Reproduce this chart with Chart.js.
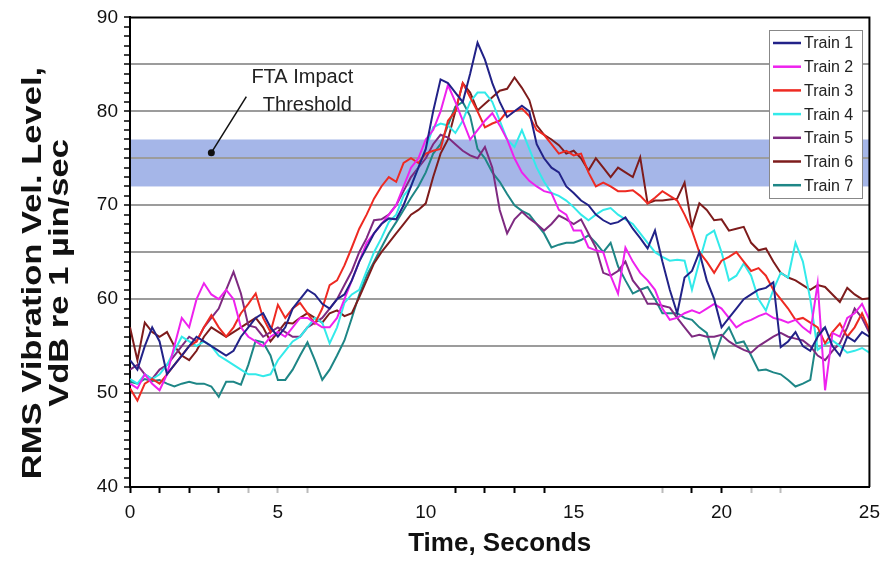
<!DOCTYPE html>
<html>
<head>
<meta charset="utf-8">
<script src="https://cdn.jsdelivr.net/npm/chart.js@4.4.1/dist/chart.umd.min.js"></script>
<style>
  body { margin: 0; background: #fff; }
  #wrap { width: 888px; height: 563px; }
</style>
</head>
<body>
<div id="wrap"><canvas id="myChart" width="888" height="563"></canvas></div>
<script>
// samples every 0.25 s, 0..25 s
step = 0.25;

train1 = [53.5, 52.5, 55, 57, 55.5, 52, 53, 54, 55, 56, 55.5, 55, 54.5, 54, 54.5, 56, 57, 58, 58.5, 57,
  56, 57, 59, 60, 61, 60.5, 59.5, 59, 60, 60.5, 62, 64, 65.5, 67, 68, 68.6, 68.5, 70, 72, 74,
  76, 80, 83.4, 83, 82, 81, 84, 87.3, 85.5, 83, 81, 79.4, 80, 80.6, 80, 76.5, 75, 74, 73.5, 72,
  71.3, 70.5, 70, 69, 68.4, 68, 68.2, 68.7, 67.5, 66.5, 65.4, 67.3, 64, 61, 58.5, 62.3, 63, 65, 62, 60,
  57, 58, 59, 60, 60.5, 61, 61.2, 61.8, 54.9, 55.5, 56.5, 55, 54.5, 56, 57, 55, 54, 56, 55.5, 56.5, 56];
train2 = [51, 50.5, 52, 51, 50.3, 52, 55, 58, 57, 60, 61.7, 60.5, 60, 61, 60, 57, 56, 55.5, 55, 56,
  56.5, 56, 57, 58, 58, 57.5, 57, 57, 58, 60, 62, 64, 66, 67, 68, 69, 70, 72, 74, 75,
  77, 78, 80, 82.8, 81, 79, 77, 78, 79, 79.8, 78.5, 77, 75, 73.5, 72.6, 72, 71.5, 71.3, 69.5, 69,
  67.3, 67.3, 65.5, 65.2, 65, 62.5, 60.6, 65.5, 64, 62.8, 62, 61, 59, 57.8, 58, 58.5, 58.8, 58.5, 59, 59.5,
  59, 58, 57, 57.5, 57.8, 58.2, 58.5, 58, 57.8, 57.5, 57.8, 57, 56.4, 61.7, 50.3, 56.4, 56, 58, 58.5, 59.5, 57.8];
train3 = [50.5, 49.2, 51, 51.5, 51, 52, 53, 54, 55, 55.5, 57, 58.3, 57, 56, 57, 58.5, 59.5, 60.6, 58, 56.5,
  59.4, 58, 59, 59.6, 58.5, 57.4, 59, 61.5, 62, 63.6, 65.5, 67.5, 69, 70.7, 72, 73, 72.5, 74.5, 75, 74.5,
  75.5, 75.8, 76, 79, 80, 83, 81.5, 80, 78.3, 78.7, 79, 80, 80, 80.3, 79.5, 78, 77.5, 76.5, 75.5, 75.8,
  75.3, 75.5, 73.5, 72, 72.4, 72, 71.5, 71.5, 71.6, 71, 70.2, 70.8, 71.5, 71, 70.5, 69, 67.3, 65, 64, 62.8,
  64.1, 64.5, 65, 64, 63, 63.3, 62.5, 61, 60, 59, 57.8, 58, 57.5, 57, 55.3, 56.5, 57.4, 56, 57, 58.5, 56.7];
train4 = [51.5, 51, 52, 51.5, 52, 53, 54.5, 56, 55.5, 55, 55.5, 55, 54, 53.5, 53, 52.5, 52, 52, 51.8, 52,
  53.5, 54.5, 55.5, 56, 57, 58, 57.5, 55.3, 57, 59.6, 60.5, 61, 63, 65, 66.5, 68.2, 69, 71, 72, 74,
  76, 78.3, 78.7, 78.5, 77.7, 79, 81, 82, 82, 81, 79, 77, 76.2, 78, 76, 74, 72.5, 71.3, 71, 70.5,
  69.8, 69, 68.4, 69, 69.5, 69.7, 69, 68.5, 68, 67, 66, 65, 64.5, 64.1, 64.2, 64.1, 61, 64, 66.8, 67.3,
  65, 62, 62.5, 63.8, 62.5, 60, 58.8, 61, 62.8, 62.3, 66, 64, 60, 54.6, 55.2, 55.6, 55, 54.3, 54.5, 54.8, 54.3];
train5 = [52.5, 53, 52, 51.5, 52.5, 53, 54, 55, 56, 55.5, 57, 58, 59, 61, 62.9, 60.6, 57.2, 57, 56, 56.5,
  57, 56.5, 56, 56, 57, 57.5, 58, 59, 60, 61.5, 63, 65, 66.5, 68.4, 68.5, 69, 70, 71.5, 73, 74,
  75, 76.5, 77.5, 77.2, 76.5, 75.8, 75.3, 75, 76.2, 74, 69.5, 67, 68.5, 69.3, 68.6, 68, 67.3, 68, 68.9, 68.5,
  68, 68.5, 67, 65.5, 62.8, 62.5, 63, 64, 62, 61, 59.5, 59.5, 59.3, 59.1, 58, 57, 56, 56.2, 56, 56,
  56.2, 55.5, 55, 54.6, 54.3, 55, 55.5, 56, 56.4, 56, 55.8, 55.6, 55, 54, 53.5, 54.5, 55.3, 57, 59, 58, 56.4];
train6 = [57, 53.5, 57.5, 56.5, 56, 56.5, 55, 54, 53.5, 54.5, 56, 57, 56.5, 56, 56.5, 57, 57.5, 58, 57, 55.5,
  56.5, 57.5, 57.4, 58, 58.5, 58, 57.5, 58.5, 58.8, 58.2, 58.5, 60.2, 62, 63.8, 65, 66, 67, 68, 69, 69.5,
  70.2, 73, 75.5, 77, 80, 83, 82, 80.1, 80.8, 81.5, 82.2, 82.4, 83.6, 82.5, 81.2, 78.5, 77.5, 77, 76.4, 75.5,
  75.8, 75, 73.7, 75, 74, 73, 74, 73.5, 73, 75.1, 70.2, 70.5, 70.5, 70.6, 70.7, 72.4, 67.7, 70.2, 69.5, 68.4,
  68.5, 67.3, 67.5, 67.7, 66, 65.2, 65.4, 64, 62.8, 62.3, 62, 61.5, 61, 61.5, 61.3, 60.5, 59.7, 61.2, 60.5, 60, 60.1];
train7 = [51.2, 51, 51.5, 51.3, 51.4, 51, 50.7, 51, 51.2, 51, 51, 50.7, 49.6, 51.2, 51.2, 50.9, 53, 55.6, 55.4, 54,
  51.4, 51.4, 52.5, 54, 55.4, 53.5, 51.4, 52.5, 54, 55.6, 58, 60.5, 62.5, 64, 65.5, 67, 68.2, 69.5, 70.8, 72,
  73.5, 75.5, 76.5, 78.5, 80.5, 81, 79.5, 76, 75, 73.5, 72.5, 71.2, 70, 69.4, 69, 68, 67, 65.5, 65.8, 66,
  66, 66.3, 66.8, 66, 65, 66, 63.5, 62, 60.6, 61, 61.3, 60, 58.5, 58.5, 58.5, 58, 57.8, 57, 56.4, 53.8,
  56, 57, 55.3, 55.5, 54, 52.4, 52.5, 52.2, 52, 51.4, 50.7, 51, 51.4, 56.4, 57];

labels = ["Train 1", "Train 2", "Train 3", "Train 4", "Train 5", "Train 6", "Train 7"];
colors = ["#222288", "#ee22ee", "#ee2a22", "#33eaea", "#7e2a80", "#7e1c1c", "#1e8686"];
series = [train1, train2, train3, train4, train5, train6, train7];

threshold = [72, 77];          // FTA impact band, VdB
noteLines = ["FTA Impact", "Threshold"];
notePoint = [2.75, 75.6];

xDarkTicks = [0, 1, 2, 3, 11, 12, 13, 14, 19, 20];
xGrayTicks = [4, 5, 6, 18, 21, 22];

function toPoints(arr) {
    return arr.map(function (v, i) { return { x: i * step, y: v }; });
}

var FONT = "'Liberation Sans', Arial, sans-serif";
Chart.defaults.font.family = FONT;

var decor = {
    id: 'decor',
    beforeDraw: function (chart) {
        var ctx = chart.ctx, a = chart.chartArea, y = chart.scales.y;
        ctx.save();
        ctx.fillStyle = '#a5b6e8';
        var top = y.getPixelForValue(threshold[1]);
        var bot = y.getPixelForValue(threshold[0]);
        ctx.fillRect(a.left, top, a.right - a.left, bot - top);
        ctx.restore();
    },
    afterDraw: function (chart) {
        var ctx = chart.ctx, a = chart.chartArea, xs = chart.scales.x, ys = chart.scales.y;
        ctx.save();
        // top + right frame
        ctx.strokeStyle = '#000';
        ctx.lineWidth = 2;
        ctx.beginPath();
        ctx.moveTo(a.left, a.top);
        ctx.lineTo(a.right, a.top);
        ctx.lineTo(a.right, a.bottom);
        ctx.stroke();

        // annotation
        var px = xs.getPixelForValue(notePoint[0]);
        var py = ys.getPixelForValue(notePoint[1]);
        ctx.fillStyle = '#111';
        ctx.beginPath();
        ctx.arc(px, py, 3.5, 0, Math.PI * 2);
        ctx.fill();
        ctx.lineWidth = 1.5;
        ctx.strokeStyle = '#111';
        ctx.beginPath();
        ctx.moveTo(px, py);
        ctx.lineTo(px + 35, py - 56);
        ctx.stroke();
        ctx.font = '20px ' + FONT;
        ctx.textAlign = 'center';
        ctx.textBaseline = 'middle';
        ctx.fillStyle = '#222';
        ctx.fillText(noteLines[0], px + 91, py - 75);
        ctx.fillText(noteLines[1], px + 96, py - 47);

        // legend
        var lx = 769, ly = 30, lw = 93, lh = 168;
        ctx.fillStyle = '#fff';
        ctx.fillRect(lx, ly, lw, lh);
        ctx.strokeStyle = '#888';
        ctx.lineWidth = 1;
        ctx.strokeRect(lx + 0.5, ly + 0.5, lw, lh);
        ctx.font = '16px ' + FONT;
        ctx.textAlign = 'left';
        chart.data.datasets.forEach(function (ds, i) {
            var yy = ly + 13 + i * 23.7;
            ctx.strokeStyle = ds.borderColor;
            ctx.lineWidth = 2.5;
            ctx.beginPath();
            ctx.moveTo(lx + 4, yy);
            ctx.lineTo(lx + 32, yy);
            ctx.stroke();
            ctx.fillStyle = '#222';
            ctx.fillText(ds.label, lx + 35, yy + 1);
        });

        // y axis title, two lines
        ctx.fillStyle = '#111';
        ctx.font = 'bold 27px ' + FONT;
        ctx.textAlign = 'center';
        ctx.textBaseline = 'alphabetic';
        var ttl = ['RMS Vibration Vel. Level,', 'VdB re 1 \u00b5in/sec'];
        var bx = [41, 68];
        for (var k = 0; k < 2; k++) {
            ctx.save();
            ctx.translate(bx[k], 273);
            ctx.rotate(-Math.PI / 2);
            ctx.scale(1.28, 1);
            ctx.fillText(ttl[k], 0, 0);
            ctx.restore();
        }
        ctx.restore();
    }
};

var datasets = series.map(function (s, i) {
    return {
        label: labels[i],
        data: toPoints(s),
        borderColor: colors[i],
        backgroundColor: colors[i],
        borderWidth: 2,
        pointRadius: 0,
        tension: 0,
        fill: false
    };
});

function renderChart() {
    var ctx = document.getElementById("myChart").getContext('2d');
    var myChart = new Chart(ctx, {
        type: 'line',
        data: { datasets: datasets },
        plugins: [decor],
        options: {
            responsive: false,
            animation: false,
            layout: { padding: { top: 17, right: 15, left: 0, bottom: 0 } },
            plugins: { legend: { display: false }, tooltip: { enabled: false } },
            scales: {
                x: {
                    type: 'linear',
                    min: 0,
                    max: 25,
                    afterFit: function (s) { s.height = 76; },
                    border: { color: '#000', width: 2 },
                    grid: {
                        drawOnChartArea: false,
                        tickLength: 6,
                        tickWidth: 2,
                        tickColor: function (c) {
                            var v = c.tick ? c.tick.value : -1;
                            if (xDarkTicks.indexOf(v) >= 0) return '#000';
                            if (xGrayTicks.indexOf(v) >= 0) return '#bbb';
                            return 'rgba(0,0,0,0)';
                        }
                    },
                    ticks: {
                        stepSize: 1,
                        autoSkip: false,
                        maxRotation: 0,
                        maxTicksLimit: 100,
                        padding: 8,
                        color: '#111',
                        font: { size: 19 },
                        callback: function (v) { return v % 5 === 0 ? String(v) : ''; }
                    },
                    title: {
                        display: true,
                        text: 'Time, Seconds',
                        color: '#111',
                        font: { size: 26, weight: 'bold' },
                        padding: { top: 0, bottom: 4 }
                    }
                },
                y: {
                    min: 40,
                    max: 90,
                    afterFit: function (s) { s.width = 130; },
                    border: { color: '#000', width: 2 },
                    grid: {
                        lineWidth: 2,
                        tickLength: 6,
                        tickWidth: 1.5,
                        tickColor: '#000',
                        color: function (c) {
                            var v = c.tick ? c.tick.value : 0;
                            return (v >= 50 && v <= 85 && v % 5 === 0) ? '#9c9c9c' : 'rgba(0,0,0,0)';
                        }
                    },
                    ticks: {
                        stepSize: 1,
                        autoSkip: false,
                        maxTicksLimit: 100,
                        padding: 6,
                        color: '#111',
                        font: { size: 19 },
                        callback: function (v) { return v % 10 === 0 ? String(v) : ''; }
                    }
                }
            }
        }
    });
}

renderChart();
</script>
</body>
</html>
